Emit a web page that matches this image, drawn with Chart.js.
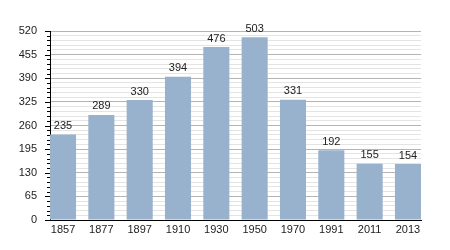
<!DOCTYPE html>
<html>
<head>
<meta charset="utf-8">
<script src="https://cdn.jsdelivr.net/npm/chart.js@4"></script>
<style>
  html, body { margin: 0; padding: 0; background: #fff; }
  #wrap { width: 450px; height: 250px; }
</style>
</head>
<body>
<div id="wrap"><canvas id="chart" width="450" height="250"></canvas></div>
<script>
// données
const years = ['1857', '1877', '1897', '1910', '1930', '1950', '1970', '1991', '2011', '2013'];
const population = [235, 289, 330, 394, 476, 503, 331, 192, 155, 154];
const yMax = 520;
const yMajorStep = 65;
const yMinorStep = 13;

const barColor = '#98b1cc';
const fontFamily = '"Liberation Sans", Arial, sans-serif';

// valeurs au-dessus des barres + petites graduations de l'axe Y
const extras = {
    id: 'extras',
    afterDatasetsDraw(chart) {
        const ctx = chart.ctx;
        const meta = chart.getDatasetMeta(0);
        ctx.save();
        ctx.font = '11px ' + fontFamily;
        ctx.fillStyle = '#222';
        ctx.textAlign = 'center';
        ctx.textBaseline = 'bottom';
        meta.data.forEach((bar, i) => {
            ctx.fillText(String(population[i]), bar.x, bar.y - 3);
        });

        const y = chart.scales.y;
        const left = chart.chartArea.left;
        ctx.strokeStyle = '#000';
        ctx.lineWidth = 1;
        y.ticks.forEach((t) => {
            const py = Math.round(y.getPixelForValue(t.value)) + 0.5;
            const len = t.value % yMajorStep === 0 ? 5 : 3;
            ctx.beginPath();
            ctx.moveTo(left - len, py);
            ctx.lineTo(left, py);
            ctx.stroke();
        });
        ctx.restore();
    }
};

new Chart(document.getElementById('chart'), {
    type: 'bar',
    data: {
        datasets: [{
            data: population.map((v, i) => ({ x: i, y: v })),
            backgroundColor: barColor,
            borderWidth: 0,
            barPercentage: 0.68,
            categoryPercentage: 1
        }]
    },
    options: {
        responsive: false,
        animation: false,
        layout: { padding: { left: 0, right: 29, top: 31, bottom: 0 } },
        plugins: { legend: { display: false }, tooltip: { enabled: false } },
        scales: {
            x: {
                type: 'linear',
                min: -0.34,
                max: 9.34,
                offset: false,
                border: { display: true, color: '#000', width: 1 },
                grid: { display: false, drawTicks: false },
                ticks: {
                    stepSize: 1,
                    includeBounds: false,
                    autoSkip: false,
                    maxRotation: 0,
                    padding: 3,
                    color: '#222',
                    font: { family: fontFamily, size: 11 },
                    callback: (v) => years[v] !== undefined && Number.isInteger(v) ? years[v] : ''
                },
                afterFit: (s) => { s.height = 30; }
            },
            y: {
                min: 0,
                max: yMax,
                border: { display: true, color: '#000', width: 1 },
                grid: {
                    drawTicks: false,
                    color: (c) => c.tick && c.tick.value % yMajorStep === 0 ? '#b4b4b4' : '#e4e4e4'
                },
                ticks: {
                    stepSize: yMinorStep,
                    autoSkip: false,
                    padding: 13,
                    color: '#222',
                    font: { family: fontFamily, size: 11 },
                    callback: (v) => v % yMajorStep === 0 ? String(v) : ''
                },
                afterFit: (s) => { s.width = 50; }
            }
        }
    },
    plugins: [extras]
});
</script>
</body>
</html>
